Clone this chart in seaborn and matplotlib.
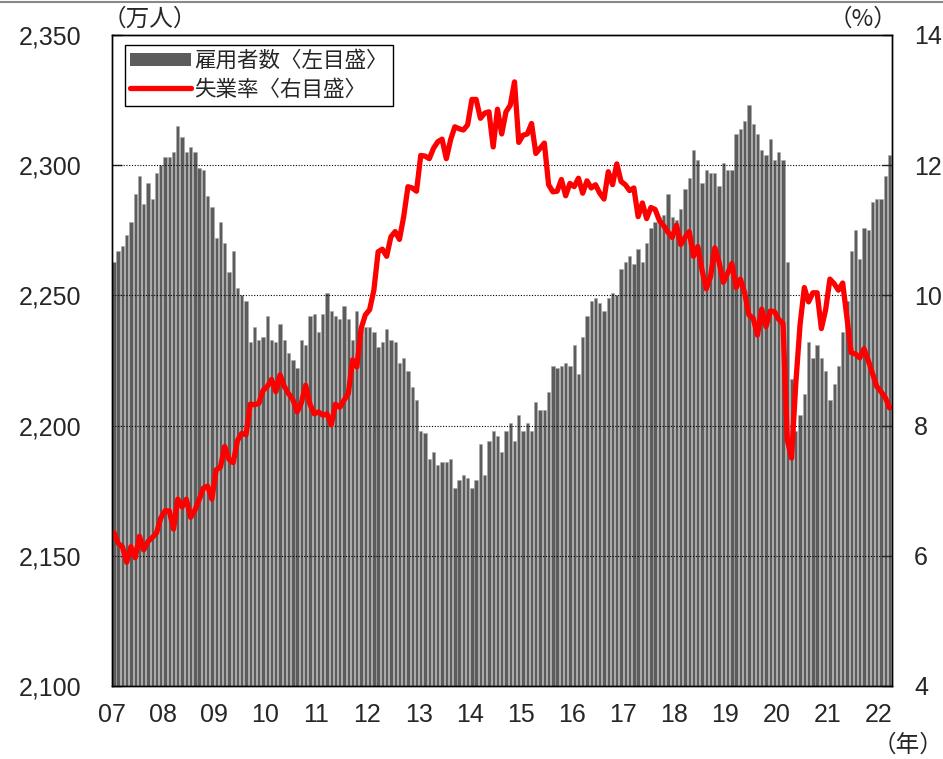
import matplotlib
matplotlib.use('Agg')
import matplotlib.pyplot as plt
import seaborn as sns
import pandas as pd
from matplotlib.patches import Patch
from matplotlib.lines import Line2D
from matplotlib.font_manager import FontProperties

sns.set_style("white")
plt.rcParams['font.family'] = ['Liberation Sans', 'Noto Sans CJK JP', 'DejaVu Sans']
jp = ['Noto Sans CJK JP', 'DejaVu Sans']

# 月次データ 2007年1月〜2022年3月
year_labels = ['07', '08', '09', '10', '11', '12', '13', '14', '15',
               '16', '17', '18', '19', '20', '21', '22']

# 雇用者数（万人）
employees = [
    2263, 2267, 2269, 2273, 2278, 2289, 2296, 2285, 2293, 2287, 2297, 2300,  # 07
    2303, 2303, 2305, 2315, 2311, 2305, 2307, 2305, 2299, 2298, 2288, 2284,  # 08
    2272, 2278, 2270, 2259, 2267, 2253, 2250, 2248, 2232, 2238, 2233, 2234,  # 09
    2242, 2233, 2232, 2239, 2233, 2228, 2225, 2222, 2233, 2231, 2242, 2243,  # 10
    2236, 2243, 2251, 2244, 2242, 2241, 2246, 2241, 2233, 2244, 2238, 2238,  # 11
    2238, 2236, 2230, 2232, 2237, 2233, 2232, 2224, 2226, 2221, 2215, 2210,  # 12
    2198, 2197, 2187, 2190, 2185, 2186, 2186, 2187, 2176, 2179, 2181, 2180,  # 13
    2176, 2179, 2193, 2181, 2194, 2198, 2196, 2190, 2198, 2201, 2194, 2204,  # 14
    2198, 2201, 2198, 2209, 2206, 2206, 2213, 2223, 2222, 2223, 2224, 2223,  # 15
    2231, 2220, 2234, 2242, 2248, 2249, 2247, 2244, 2249, 2251, 2250, 2260,  # 16
    2263, 2265, 2262, 2268, 2263, 2270, 2276, 2278, 2280, 2281, 2289, 2280,  # 17
    2279, 2283, 2291, 2295, 2306, 2302, 2293, 2298, 2297, 2297, 2292, 2301,  # 18
    2298, 2298, 2312, 2314, 2317, 2323, 2316, 2312, 2306, 2304, 2310, 2302,  # 19
    2305, 2302, 2263, 2218, 2198, 2204, 2212, 2232, 2226, 2231, 2226, 2221,  # 20
    2210, 2216, 2223, 2236, 2248, 2267, 2275, 2264, 2276, 2275, 2286, 2287,  # 21
    2287, 2296, 2304,                                                        # 22
]

# 失業率（%）
unemployment = [
    6.36, 6.19, 6.14, 5.90, 6.14, 5.97, 6.30, 6.09, 6.22, 6.28, 6.35, 6.58,
    6.69, 6.69, 6.41, 6.87, 6.75, 6.87, 6.59, 6.70, 6.86, 7.04, 7.07, 6.87,
    7.32, 7.36, 7.68, 7.48, 7.43, 7.77, 7.88, 7.86, 8.33, 8.32, 8.34, 8.54,
    8.60, 8.71, 8.52, 8.78, 8.60, 8.49, 8.40, 8.21, 8.35, 8.62, 8.33, 8.18,
    8.21, 8.16, 8.18, 8.01, 8.33, 8.28, 8.39, 8.49, 9.01, 8.90, 9.49, 9.70,
    9.78, 10.08, 10.67, 10.71, 10.60, 10.90, 10.98, 10.86, 11.21, 11.67, 11.65, 11.60,
    12.15, 12.14, 12.10, 12.26, 12.36, 12.40, 12.10, 12.39, 12.59, 12.56, 12.54, 12.62,
    13.01, 13.01, 12.72, 12.80, 12.82, 12.28, 12.86, 12.48, 12.82, 12.92, 13.28, 12.35,
    12.46, 12.48, 12.64, 12.18, 12.26, 12.34, 11.70, 11.59, 11.60, 11.78, 11.53, 11.72,
    11.67, 11.80, 11.57, 11.76, 11.65, 11.70, 11.57, 11.48, 11.90, 11.70, 12.02, 11.75,
    11.70, 11.61, 11.65, 11.21, 11.42, 11.18, 11.35, 11.32, 11.15, 11.07, 10.97, 10.89,
    11.08, 10.78, 10.89, 10.98, 10.60, 10.75, 10.39, 10.10, 10.29, 10.73, 10.51, 10.20,
    10.34, 10.49, 10.12, 10.25, 10.04, 9.70, 9.65, 9.39, 9.79, 9.52, 9.76, 9.75,
    9.63, 9.57, 7.78, 7.50, 8.65, 9.55, 10.12, 9.90, 10.04, 10.04, 9.49, 9.78,
    10.25, 10.18, 10.08, 10.19, 9.65, 9.12, 9.10, 9.04, 9.18, 9.00, 8.80, 8.60,
    8.52, 8.43, 8.27,
]

df = pd.DataFrame({'month': range(len(employees)),
                   'employees': employees,
                   'unemployment': unemployment})

fig = plt.figure(figsize=(9.43, 7.59), dpi=100)
ax = fig.add_axes([0.1185, 0.0962, 0.8271, 0.8577])

sns.barplot(data=df, x='month', y='employees', color='#5c5c5c', saturation=1,
            width=0.78, edgecolor='#a8a8a8', linewidth=0.4, ax=ax)
ax.set_ylim(2100, 2350)
ax.set_xlim(-0.5, len(employees) - 0.5)
ax.set_yticks(range(2100, 2351, 50))
ax.set_yticklabels([f'{v:,}' for v in range(2100, 2351, 50)])
ax.set_xticks([-0.5 + 12 * k for k in range(len(year_labels))])
ax.set_xticklabels(year_labels)
ax.set_xlabel('')
ax.set_ylabel('')
for v in (2150, 2200, 2250, 2300):
    ax.axhline(v, color='black', lw=0.8, ls=(0, (1, 1.5)), zorder=3)

ax2 = ax.twinx()
sns.lineplot(data=df, x='month', y='unemployment', color='#ff0000', lw=3.8,
             ax=ax2, legend=False)
ax2.set_ylim(4, 14)
ax2.set_yticks(range(4, 15, 2))
ax2.set_ylabel('')
ax2.set_xlim(-0.5, len(employees) - 0.5)

for a in (ax, ax2):
    for s in a.spines.values():
        s.set_visible(True)
        s.set_color('black')
        s.set_linewidth(1)

ax.tick_params(axis='y', direction='in', length=7, width=1, pad=22, labelsize=18)
ax.tick_params(axis='x', direction='in', length=5, width=1, pad=12, labelsize=18)
ax2.tick_params(axis='y', direction='in', length=7, width=1, pad=16, labelsize=18)

handles = [Patch(facecolor='#5c5c5c', edgecolor='none'),
           Line2D([], [], color='#ff0000', lw=3.8)]
labels = ['雇用者数〈左目盛〉', '失業率〈右目盛〉']
leg = ax2.legend(handles, labels, loc='upper left', bbox_to_anchor=(0.017, 0.985),
                 borderaxespad=0, prop=FontProperties(family=jp, size=15.5),
                 frameon=True, fancybox=False, framealpha=1, edgecolor='black',
                 handlelength=2.8, handleheight=0.6, handletextpad=0.15,
                 labelspacing=0.3, borderpad=0.25)
leg.get_frame().set_linewidth(1)

fig.text(103 / 943, 1 - 19 / 759, '（万人）', family=jp, fontsize=17,
         ha='left', va='center')
fig.text(897 / 943, 1 - 19 / 759, '（%）', family=jp, fontsize=17,
         ha='right', va='center')
fig.text(1.0, 1 - 745 / 759, '（年）', family=jp, fontsize=17,
         ha='right', va='center')
fig.add_artist(Line2D([0, 1], [1 - 1.5 / 759, 1 - 1.5 / 759], color='#888888',
                      lw=1.5, transform=fig.transFigure))

fig.savefig('out.png', dpi=100)
